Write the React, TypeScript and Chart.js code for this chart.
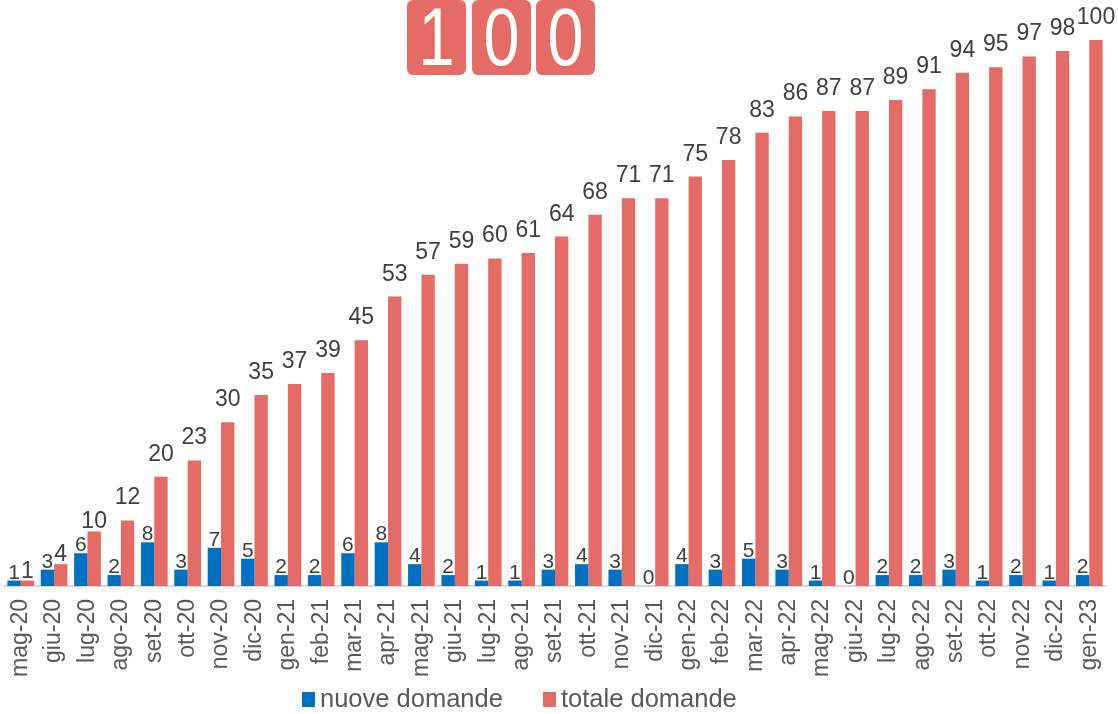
import React, { useEffect, useRef } from "react";
import { Chart, registerables } from "chart.js";

Chart.register(...registerables);

const categories = [
  "mag-20", "giu-20", "lug-20", "ago-20", "set-20", "ott-20", "nov-20", "dic-20",
  "gen-21", "feb-21", "mar-21", "apr-21", "mag-21", "giu-21", "lug-21", "ago-21",
  "set-21", "ott-21", "nov-21", "dic-21", "gen-22", "feb-22", "mar-22", "apr-22",
  "mag-22", "giu-22", "lug-22", "ago-22", "set-22", "ott-22", "nov-22", "dic-22", "gen-23",
];
const nuoveDomande = [1, 3, 6, 2, 8, 3, 7, 5, 2, 2, 6, 8, 4, 2, 1, 1, 3, 4, 3, 0, 4, 3, 5, 3, 1, 0, 2, 2, 3, 1, 2, 1, 2];
const totaleDomande = [1, 4, 10, 12, 20, 23, 30, 35, 37, 39, 45, 53, 57, 59, 60, 61, 64, 68, 71, 71, 75, 78, 83, 86, 87, 87, 89, 91, 94, 95, 97, 98, 100];
const seriesNames = ["nuove domande", "totale domande"];
const titleDigits = ["1", "0", "0"];

const BLUE = "#0070C0";
const RED = "#E56B66";
const FONT = "'Liberation Sans', Arial, Helvetica, sans-serif";

const labelPlugin = {
  id: "barLabels",
  afterDatasetsDraw(chart: any) {
    const ctx = chart.ctx;
    ctx.save();
    chart.data.datasets.forEach((ds: any, di: number) => {
      const meta = chart.getDatasetMeta(di);
      const isTotal = di === 1;
      ctx.font = `${isTotal ? 23 : 21}px ${FONT}`;
      ctx.fillStyle = "#404040";
      ctx.textAlign = "center";
      ctx.textBaseline = "alphabetic";
      meta.data.forEach((el: any, i: number) => {
        const v = ds.data[i];
        const off = isTotal ? (v <= 10 ? 3 : 16) : 2;
        ctx.fillText(String(v), el.x, el.y - off);
      });
    });
    ctx.restore();
  },
};

export default function App() {
  const ref = useRef<HTMLCanvasElement | null>(null);

  useEffect(() => {
    if (!ref.current) return;
    const chart = new Chart(ref.current, {
      type: "bar",
      data: {
        labels: categories,
        datasets: [
          {
            label: seriesNames[0],
            data: nuoveDomande,
            backgroundColor: BLUE,
            categoryPercentage: 0.8,
            barPercentage: 1.0,
          },
          {
            label: seriesNames[1],
            data: totaleDomande,
            backgroundColor: RED,
            categoryPercentage: 0.8,
            barPercentage: 1.0,
          },
        ],
      },
      options: {
        responsive: false,
        animation: false,
        devicePixelRatio: 1,
        layout: { padding: { left: 4, right: 12, top: 40, bottom: 0 } },
        plugins: {
          legend: { display: false },
          tooltip: { enabled: false },
          title: { display: false },
        },
        scales: {
          x: {
            grid: { display: false, drawTicks: false },
            border: { display: true, color: "#d9d9d9", width: 2 },
            ticks: {
              autoSkip: false,
              minRotation: 90,
              maxRotation: 90,
              padding: 13,
              color: "#595959",
              font: { size: 23, family: FONT },
            },
            afterFit: (s: any) => {
              s.height = 128;
              s.paddingLeft = 0;
              s.paddingRight = 0;
            },
          },
          y: {
            display: false,
            min: 0,
            max: 100,
          },
        },
      },
      plugins: [labelPlugin],
    });
    return () => chart.destroy();
  }, []);

  const boxLefts = [407, 472, 536];

  return (
    <div
      style={{
        position: "fixed",
        left: 0,
        top: 0,
        width: 1118,
        height: 714,
        background: "#ffffff",
        fontFamily: FONT,
        overflow: "hidden",
      }}
    >
      <canvas ref={ref} width={1118} height={714} style={{ position: "absolute", left: 0, top: 0, width: 1118, height: 714 }} />
      {titleDigits.map((d, i) => (
        <div
          key={i}
          style={{
            position: "absolute",
            left: boxLefts[i],
            top: 0,
            width: 59,
            height: 75,
            background: RED,
            borderRadius: 6,
            color: "#ffffff",
            fontSize: 81,
            lineHeight: "75px",
            textAlign: "center",
            fontFamily: FONT,
          }}
        >
          <span style={{ display: "inline-block", transform: "scaleX(0.8)" }}>{d}</span>
        </div>
      ))}
      {seriesNames.map((name, i) => (
        <div
          key={name}
          style={{
            position: "absolute",
            left: i === 0 ? 302 : 543,
            top: 686,
            display: "flex",
            alignItems: "flex-start",
            fontSize: 25.5,
            lineHeight: "25px",
            color: "#595959",
            whiteSpace: "nowrap",
          }}
        >
          <span
            style={{
              display: "inline-block",
              width: 13,
              height: 15,
              marginTop: 6,
              marginRight: 5,
              background: i === 0 ? BLUE : RED,
            }}
          />
          <span>{name}</span>
        </div>
      ))}
    </div>
  );
}
